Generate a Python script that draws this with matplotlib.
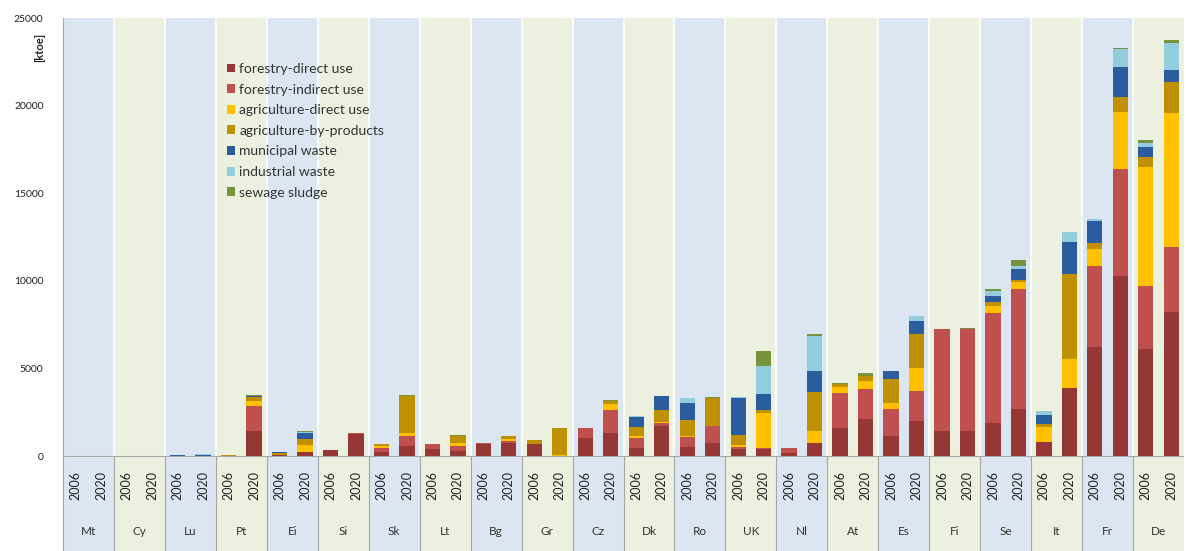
import matplotlib.pyplot as plt
import numpy as np

plt.rcParams['font.family'] = ['Lato', 'DejaVu Sans']

countries = ['Mt', 'Cy', 'Lu', 'Pt', 'Ei', 'Si', 'Sk', 'Lt', 'Bg', 'Gr', 'Cz',
             'Dk', 'Ro', 'UK', 'Nl', 'At', 'Es', 'Fi', 'Se', 'It', 'Fr', 'De']
years = ['2006', '2020']

series_names = ['forestry-direct use', 'forestry-indirect use', 'agriculture-direct use',
                'agriculture-by-products', 'municipal waste', 'industrial waste', 'sewage sludge']
colors = ['#953735', '#C0504D', '#FFC000', '#BF9000', '#2A5C9E', '#93CDDD', '#77933C']

# values in ktoe, pairs (2006, 2020) per country in the order of `countries`
forestry_direct = [0, 0, 0, 0, 0, 20, 20, 1430, 60, 200, 330, 1250, 200, 570, 380, 290,
                   680, 760, 670, 0, 1050, 1330, 450, 1700, 500, 760, 400, 380, 150, 760,
                   1620, 2100, 1140, 2000, 1430, 1430, 1900, 2670, 820, 3900, 6200, 10300,
                   6100, 8200]
forestry_indirect = [0, 0, 0, 0, 0, 0, 0, 1430, 0, 50, 40, 80, 250, 570, 320, 290,
                     70, 90, 0, 0, 570, 1270, 550, 200, 600, 950, 100, 100, 300, 0,
                     2000, 1720, 1530, 1720, 5820, 5840, 6240, 6860, 0, 0, 4670, 6100,
                     3620, 3720]
agri_direct = [0, 0, 0, 0, 0, 0, 0, 290, 0, 350, 0, 0, 100, 190, 0, 190,
               0, 100, 0, 50, 0, 340, 150, 50, 50, 0, 150, 2000, 0, 670,
               290, 480, 380, 1330, 0, 0, 440, 380, 850, 1620, 950, 3240,
               6770, 7630]
agri_byproducts = [0, 0, 0, 0, 10, 0, 10, 190, 130, 380, 0, 0, 130, 2100, 0, 380,
                   0, 190, 250, 1550, 0, 190, 500, 700, 900, 1620, 550, 130, 0, 2200,
                   190, 290, 1330, 1900, 0, 0, 190, 130, 150, 4860, 320, 860,
                   570, 1810]
municipal = [0, 0, 0, 0, 30, 60, 30, 100, 20, 350, 0, 0, 0, 0, 0, 0,
             0, 0, 0, 0, 0, 0, 600, 750, 1000, 0, 2100, 950, 0, 1240,
             0, 0, 480, 760, 0, 0, 380, 630, 530, 1810, 1300, 1720,
             570, 670]
industrial = [0, 0, 0, 0, 10, 10, 0, 0, 0, 20, 0, 0, 0, 0, 0, 0,
              0, 0, 0, 0, 0, 0, 30, 20, 280, 0, 60, 1580, 0, 2000,
              0, 0, 0, 290, 0, 0, 290, 190, 200, 570, 100, 990,
              230, 1530]
sewage = [0, 0, 0, 0, 0, 0, 0, 50, 0, 50, 0, 0, 0, 50, 0, 60,
          0, 0, 0, 0, 0, 40, 0, 0, 0, 30, 0, 860, 0, 100,
          50, 130, 0, 0, 20, 20, 100, 320, 0, 0, 0, 100,
          190, 190]

data = [forestry_direct, forestry_indirect, agri_direct, agri_byproducts,
        municipal, industrial, sewage]

W, H = 1186, 551
fig = plt.figure(figsize=(W / 100, H / 100), dpi=100)
left_px, right_px, top_px, zero_px = 63, 1184, 18, 456
ax = fig.add_axes([left_px / W, 0, (right_px - left_px) / W, (H - top_px) / H])

ymax = 25000
ymin = -(H - zero_px) * ymax / (zero_px - top_px)
n = len(countries) * 2
x = np.arange(n)
ax.set_xlim(-0.5, n - 0.5)
ax.set_ylim(ymin, ymax)

# background bands
for i in range(len(countries)):
    col = '#DCE6F2' if i % 2 == 0 else '#EBF1DE'
    ax.axvspan(2 * i - 0.5, 2 * i + 1.5, color=col, lw=0, zorder=0)
    if i > 0:
        ax.vlines(2 * i - 0.5, 0, ymax, color='white', lw=1.2, zorder=1)
        ax.vlines(2 * i - 0.5, ymin, 0, color='#A6A6A6', lw=0.8, zorder=1)

bottom = np.zeros(n)
for name, vals, c in zip(series_names, data, colors):
    vals = np.array(vals, dtype=float)
    ax.bar(x, vals, width=0.6, bottom=bottom, color=c, label=name, lw=0, zorder=2)
    bottom += vals

ax.axhline(0, color='#A6A6A6', lw=0.8, zorder=3)

# category labels below the axis
for i, c in enumerate(countries):
    for j, yr in enumerate(years):
        ax.text(2 * i + j, -1700, yr, rotation=90, ha='center', va='center',
                fontsize=9, color='#222222')
    ax.text(2 * i + 0.5, -4300, c, ha='center', va='center', fontsize=8.5, color='#333333')

ax.set_yticks(np.arange(0, 25001, 5000))
ax.tick_params(axis='y', length=0, pad=14, labelsize=7.5, labelcolor='#222222')
ax.set_xticks([])
for s in ['top', 'right', 'bottom']:
    ax.spines[s].set_visible(False)
ax.spines['left'].set_color('#A6A6A6')
ax.spines['left'].set_linewidth(0.8)

fig.text(40 / W, 1 - 47 / H, '[ktoe]', rotation=90, ha='center', va='center',
         fontsize=8, fontweight='bold', color='#222222')

fig.legend(loc='upper left', bbox_to_anchor=(220 / W, 1 - 56 / H), frameon=False,
           fontsize=10, handlelength=0.6, handleheight=0.6, handletextpad=0.3,
           labelspacing=0.62, borderpad=0, labelcolor='#333333')

fig.savefig('out.png', dpi=100)
